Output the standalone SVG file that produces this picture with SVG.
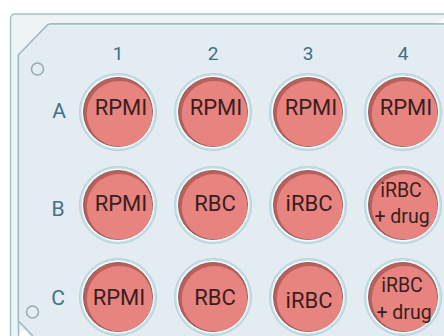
<svg xmlns="http://www.w3.org/2000/svg" width="444" height="336" viewBox="0 0 444 336">
<defs>
<style>
.lbl{font-family:Roboto,"Liberation Sans",sans-serif;fill:#42708a;text-anchor:middle}
.col{font-size:19px}
.row{font-size:21px}
.wt{font-family:Roboto,"Liberation Sans",sans-serif;fill:#3a1e1e;text-anchor:middle;font-size:22px}
.wt2{font-family:Roboto,"Liberation Sans",sans-serif;fill:#3a1e1e;text-anchor:middle;font-size:19.5px}
.halo{fill:#c9dfe7;stroke:#b4d0da;stroke-width:1}
.ring{fill:#f6fbfc}
.rim{fill:#b9605d;stroke:#7f4a4a;stroke-width:0.8}
.red{fill:#e8847f}
.hole{fill:none;stroke:#94aab4;stroke-width:1.5}
</style>
<g id="well">
<circle class="halo" r="38.5"/>
<circle class="ring" r="36.5"/>
<circle class="rim" r="34.5"/>
<circle class="red" cx="1.6" cy="1.8" r="32.8"/>
</g>
</defs>
<rect width="444" height="336" fill="#ffffff"/>
<g id="plate">
<path d="M10.5,340 L10.5,19 Q10.5,14 15.5,14 L450,14" fill="#eef3f5" stroke="#a8c0ca" stroke-width="1.5"/>
<path d="M18.5,340 L18.5,321 L33,336 M18.5,321 L18.5,55 L47,25.5 Q48.5,24 51,24 L450,24" fill="none" stroke="#9fb8c2" stroke-width="1.5"/>
<path d="M18.5,321 L18.5,55 L47,25.5 Q48.5,24 51,24 L450,24 L450,340 L33,340 Z" fill="#e3ecf0"/>
<path d="M18.5,321 L33,336" fill="none" stroke="#9fb8c2" stroke-width="1.5"/>
<path d="M19.5,321 L19.5,55.5 L47.5,26.5 Q49,25 51,25 L450,25" fill="none" stroke="#f5f9fa" stroke-width="1"/>
<path d="M18.5,321 L18.5,55 L47,25.5 Q48.5,24 51,24 L450,24" fill="none" stroke="#9fb8c2" stroke-width="1.5"/>
<circle class="hole" cx="37.5" cy="69" r="6"/>
<circle class="hole" cx="32.5" cy="312" r="6"/>
</g>
<g id="labels">
<text class="lbl col" x="118" y="60">1</text>
<text class="lbl col" x="213" y="60">2</text>
<text class="lbl col" x="308" y="60">3</text>
<text class="lbl col" x="403" y="60">4</text>
<text class="lbl row" x="59" y="118">A</text>
<text class="lbl row" x="58" y="216">B</text>
<text class="lbl row" x="58" y="305">C</text>
</g>
<g id="A1"><use href="#well" x="118" y="112"/><text class="wt" x="121" y="115">RPMI</text></g>
<g id="A2"><use href="#well" x="213" y="112"/><text class="wt" x="216" y="115">RPMI</text></g>
<g id="A3"><use href="#well" x="308" y="112"/><text class="wt" x="311" y="115">RPMI</text></g>
<g id="A4"><use href="#well" x="403" y="112"/><text class="wt" x="406" y="115">RPMI</text></g>
<g id="B1"><use href="#well" x="118" y="205"/><text class="wt" x="121" y="211">RPMI</text></g>
<g id="B2"><use href="#well" x="213" y="205"/><text class="wt" x="215" y="211">RBC</text></g>
<g id="B3"><use href="#well" x="308" y="205"/><text class="wt" x="309" y="211">iRBC</text></g>
<g id="B4"><use href="#well" x="403" y="205"/><text class="wt2" x="401" y="197">iRBC</text><text class="wt2" x="402" y="223">+ drug</text></g>
<g id="C1"><use href="#well" x="118" y="297"/><text class="wt" x="119" y="305">RPMI</text></g>
<g id="C2"><use href="#well" x="213" y="297"/><text class="wt" x="215" y="305">RBC</text></g>
<g id="C3"><use href="#well" x="308" y="297"/><text class="wt" x="309" y="308">iRBC</text></g>
<g id="C4"><use href="#well" x="403" y="297"/><text class="wt2" x="402" y="292">iRBC</text><text class="wt2" x="404" y="319">+ drug</text></g>
<g id="connectors"/>
</svg>
